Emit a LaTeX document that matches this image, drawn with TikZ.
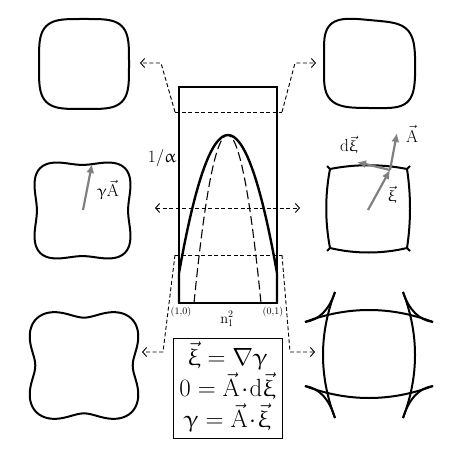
\documentclass[tikz,border=0pt]{standalone}
\usepackage{upgreek}
\usetikzlibrary{arrows.meta}
\begin{document}
\begin{tikzpicture}[x=1pt,y=-1pt]
	\tikzstyle{contour}=[line width=2pt,line join=round]
	\tikzstyle{guide}=[dash pattern=on 4pt off 2.5pt,line width=0.9pt]
	\tikzstyle{fleche}=[guide,-{Straight Barb[length=4pt,width=9pt]}]
	\tikzstyle{vecteur}=[gray,line width=2.2pt,-{Latex[length=9pt,width=8pt]}]
	\useasboundingbox (0,0) rectangle (476,449);
	% centres des formes
	\coordinate (f1) at (84,64);
	\coordinate (f2) at (369,64);
	\coordinate (f3) at (82.5,210.5);
	\coordinate (f4) at (368.5,208.5);
	\coordinate (f5) at (84,365.5);
	\coordinate (f6) at (369,354);
	% forme 1 : carre arrondi
	\draw[contour,shift={(f1)}] plot[domain=0:360,samples=121] ({45*(4/(3+cos(4*\x)))^0.25*cos(\x)},{45*(4/(3+cos(4*\x)))^0.25*sin(\x)}) -- cycle;
	% forme 2 : carre arrondi un peu deforme
	\draw[contour,shift={(f2)},yslant=-0.05] plot[domain=0:360,samples=121] ({45.5*(4/(3+cos(4*\x)))^0.25*(1+0.015*cos(3*\x))*cos(\x)},{44*(4/(3+cos(4*\x)))^0.25*(1+0.015*cos(3*\x))*sin(\x)}) -- cycle;
	% forme 3 : legers creux
	\draw[contour,shift={(f3)}] plot[domain=0:360,samples=121] ({48*(4/(3+cos(4*\x)))^0.25*(1-0.05*cos(4*\x))*cos(\x)},{48*(4/(3+cos(4*\x)))^0.25*(1-0.05*cos(4*\x))*sin(\x)}) -- cycle;
	% forme 5 : trefle
	\draw[contour,shift={(f5)}] plot[domain=0:360,samples=121] ({58*(1-0.16*cos(4*\x))*cos(\x)},{57*(1-0.16*cos(4*\x))*sin(\x)}) -- cycle;
	% forme 4 : cotes bombes, coins pointus
	\coordinate (c1) at (330,169);
	\coordinate (c2) at (407,169);
	\coordinate (c3) at (407,248);
	\coordinate (c4) at (330,248);
	\draw[contour,line join=miter] (c1) .. controls (355,164) and (382,164) .. (c2)
		.. controls (411,195) and (411,222) .. (c3)
		.. controls (382,254) and (355,254) .. (c4)
		.. controls (325,222) and (325,195) .. cycle;
	\draw[contour] (c1) -- (327,166);
	\draw[contour] (c2) -- (410,166);
	\draw[contour] (c3) -- (410,251);
	\draw[contour] (c4) -- (327,251);
	% forme 6 : queues d'aronde
	\coordinate (s1) at (335,292);
	\coordinate (s2) at (403,292);
	\coordinate (s3) at (335,418);
	\coordinate (s4) at (403,418);
	\coordinate (t1) at (305,322);
	\coordinate (t2) at (433,322);
	\coordinate (t3) at (305,386);
	\coordinate (t4) at (433,386);
	\draw[contour] (s1) .. controls (319,334) and (319,376) .. (s3);
	\draw[contour] (s2) .. controls (419,334) and (419,376) .. (s4);
	\draw[contour] (t1) .. controls (347.7,306) and (390.3,306) .. (t2);
	\draw[contour] (t3) .. controls (347.7,402) and (390.3,402) .. (t4);
	\draw[contour] (s1) .. controls (329,310) and (319,320) .. (t1);
	\draw[contour] (s2) .. controls (409,310) and (419,320) .. (t2);
	\draw[contour] (s3) .. controls (329,398.7) and (319,388) .. (t3);
	\draw[contour] (s4) .. controls (409,398.7) and (419,388) .. (t4);
	% vecteurs
	\coordinate (v0) at (83,210);
	\coordinate (v1) at (92,164);
	\draw[vecteur] (v0) -- (v1);
	\node[inner sep=1pt] (lgA) at (108,190) {\fontsize{16}{16}\selectfont$\upgamma\vec{\mathrm{A}}$};
	\coordinate (x0) at (368,210);
	\coordinate (x1) at (390,170);
	\coordinate (x2) at (397,133);
	\coordinate (x3) at (357,162);
	\draw[vecteur] (x0) -- (x1);
	\draw[vecteur] (x1) -- (x2);
	\draw[vecteur] (x1) -- (x3);
	\node[inner sep=1pt] (lA) at (412,134) {\fontsize{16}{16}\selectfont$\vec{\mathrm{A}}$};
	\node[inner sep=1pt] (ldxi) at (349,145) {\fontsize{16}{16}\selectfont$\mathrm{d}\vec{\upxi}$};
	\node[inner sep=1pt] (lxi) at (392,195) {\fontsize{16}{16}\selectfont$\vec{\upxi}$};
	% diagramme central
	\coordinate (rA) at (179,87);
	\coordinate (rB) at (277,303);
	\draw[line width=1.3pt] (rA) rectangle (rB);
	\coordinate (p0) at (179,303);
	\coordinate (p1) at (179,273);
	\coordinate (p2) at (277,273);
	\coordinate (p3) at (277,303);
	\draw[line width=2.4pt,line join=round] (p0) -- (p1) .. controls (211.7,89) and (244.3,89) .. (p2) -- (p3);
	\coordinate (q1) at (194,303);
	\coordinate (q2) at (261,303);
	\draw[line width=1.1pt,dash pattern=on 9pt off 4pt] (q1) .. controls (216.3,79) and (238.7,79) .. (q2);
	\node[inner sep=1pt] (alpha) at (162,158) {\fontsize{18}{18}\selectfont$1/\upalpha$};
	\node[inner sep=1pt] (l10) at (181,312) {\fontsize{10}{10}\selectfont(1,0)};
	\node[inner sep=1pt] (l01) at (273,312) {\fontsize{10}{10}\selectfont(0,1)};
	\node[inner sep=1pt] (n12) at (227,319) {\fontsize{14}{14}\selectfont$\mathrm{n}_1^2$};
	% coupes
	\coordinate (hg) at (175,112);
	\coordinate (hd) at (282,112);
	\coordinate (bg) at (175,255);
	\coordinate (bd) at (282,255);
	\draw[guide] (hg) -- (hd);
	\draw[guide] (bg) -- (bd);
	\coordinate (hg1) at (161,63);
	\coordinate (hg2) at (140,63);
	\coordinate (hd1) at (295,63);
	\coordinate (hd2) at (316,63);
	\coordinate (bg1) at (163,352);
	\coordinate (bg2) at (142,352);
	\coordinate (bd1) at (290,352);
	\coordinate (bd2) at (315,352);
	\draw[fleche] (hg) -- (hg1) -- (hg2);
	\draw[fleche] (hd) -- (hd1) -- (hd2);
	\draw[fleche] (bg) -- (bg1) -- (bg2);
	\draw[fleche] (bd) -- (bd1) -- (bd2);
	\coordinate (mg) at (155,208);
	\coordinate (md) at (300,208);
	\draw[guide,{Straight Barb[length=4pt,width=9pt]}-{Straight Barb[length=4pt,width=9pt]}] (mg) -- (md);
	% equations
	\coordinate (eA) at (173,338);
	\coordinate (eB) at (282,438);
	\draw[line width=0.9pt] (eA) rectangle (eB);
	\node[align=center,font=\fontsize{24}{31}\selectfont] (eqs) at (227.5,387) {$\vec{\upxi}=\nabla\upgamma$\\$0=\vec{\mathrm{A}}\!\cdot\!\mathrm{d}\vec{\upxi}$\\$\upgamma=\vec{\mathrm{A}}\!\cdot\!\vec{\upxi}$};
\end{tikzpicture}
\end{document}
